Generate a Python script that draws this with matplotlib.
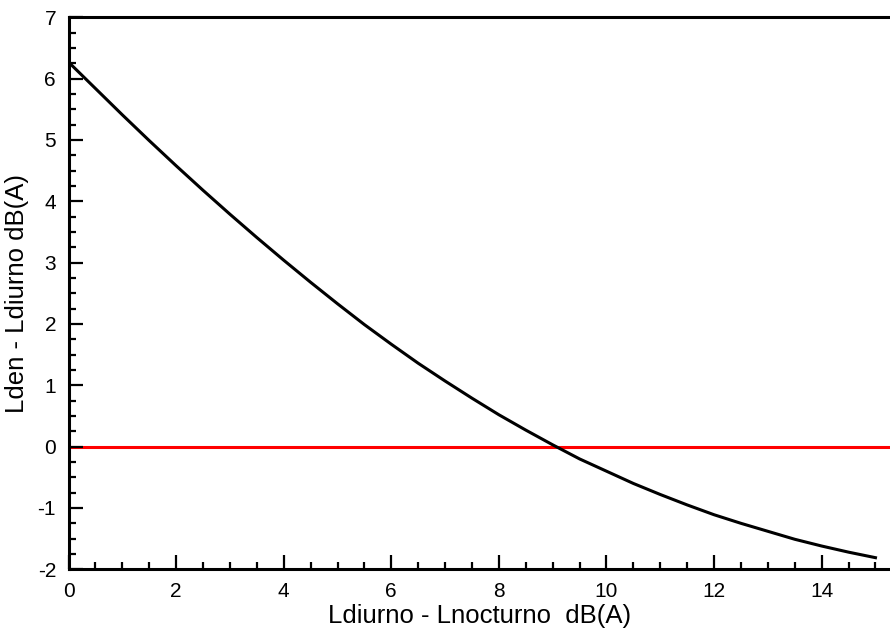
import matplotlib
matplotlib.use("Agg")
import matplotlib.pyplot as plt
from matplotlib.ticker import MultipleLocator

# values (every 0.5 dB)
dif_dn = [0, 0.5, 1, 1.5, 2, 2.5, 3, 3.5, 4, 4.5, 5, 5.5, 6, 6.5, 7, 7.5,
          8, 8.5, 9, 9.5, 10, 10.5, 11, 11.5, 12, 12.5, 13, 13.5, 14, 14.5, 15]
dif_den = [6.27, 5.84, 5.41, 4.99, 4.58, 4.18, 3.79, 3.41, 3.04, 2.68,
           2.33, 1.99, 1.67, 1.36, 1.07, 0.79, 0.52, 0.27, 0.03, -0.20,
           -0.40, -0.60, -0.78, -0.95, -1.11, -1.25, -1.38, -1.51, -1.62,
           -1.72, -1.81]
ref_level = 0

plt.rcParams['font.family'] = ['Liberation Sans', 'DejaVu Sans']
plt.rcParams['axes.unicode_minus'] = False

fig = plt.figure(figsize=(8.9, 6.3), dpi=100)
ax = fig.add_axes([0.077, 0.0963, 0.923, 0.8762])

ax.axhline(ref_level, color='#ff0000', lw=2.2, zorder=1)
ax.plot(dif_dn, dif_den, color='black', lw=2.2, zorder=2)

ax.set_xlim(0, 15.27)
ax.set_ylim(-2, 7)
ax.xaxis.set_major_locator(MultipleLocator(2))
ax.xaxis.set_minor_locator(MultipleLocator(0.5))
ax.yaxis.set_major_locator(MultipleLocator(1))
ax.yaxis.set_minor_locator(MultipleLocator(0.25))

ax.tick_params(which='both', direction='in', width=1.6, labelsize=15)
ax.tick_params(axis='x', pad=9)
ax.tick_params(axis='y', pad=9)
ax.tick_params(which='major', length=10)
ax.tick_params(which='minor', length=5)

ax.spines['right'].set_visible(False)
for s in ['left', 'bottom', 'top']:
    ax.spines[s].set_linewidth(2.2)

ax.set_xlabel('Ldiurno - Lnocturno  dB(A)', fontsize=18.5, labelpad=2)
ax.set_ylabel('Lden - Ldiurno dB(A)', fontsize=18.5, labelpad=6)

fig.savefig('out.png', dpi=100)
